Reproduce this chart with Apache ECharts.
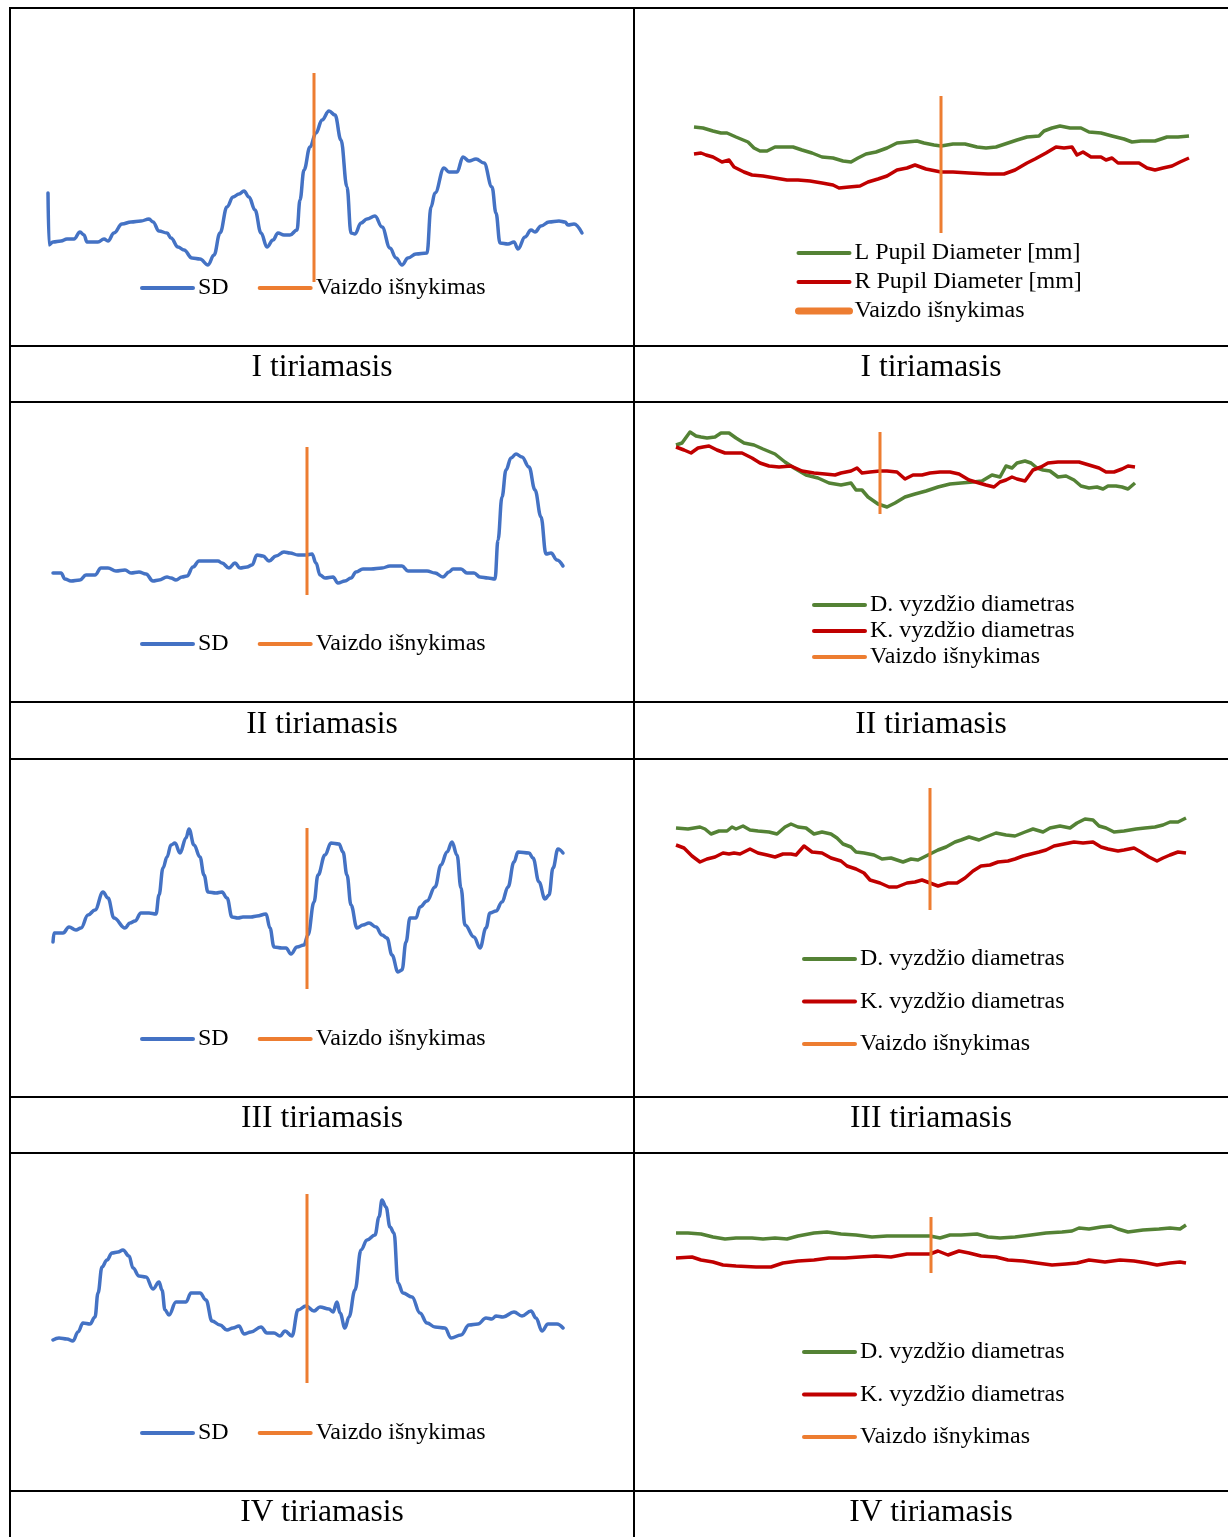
<!DOCTYPE html>
<html><head><meta charset="utf-8">
<script src="https://cdn.jsdelivr.net/npm/echarts@6/dist/echarts.min.js"></script>
<style>html,body{margin:0;padding:0;background:#fff}#c{width:1228px;height:1537px}</style>
</head><body><div id="c"></div>
<script>
// ---------- DATA (time in s, SD in arbitrary units, pupil diameter in mm) ----------
// I tiriamasis
const sd1T = [0.1,0.2,0.6,1.4,2.0,2.7,3.3,3.7,4.0,5.1,5.7,6.1,6.7,7.5,8.4,9.4,10.2,10.6,11.2,12.0,12.4,13.1,13.7,14.5,15.3,16.1,16.7,17.3,18.0,18.6,19.2,19.7,20.2,20.8,21.4,22.0,22.6,23.1,23.7,24.3,25.0,25.3,25.7,26.3,26.9,27.5,28.2,28.8,29.4,30.0,30.4,30.8,31.4,32.0,32.8,33.5,34.3,34.9,35.5,36.1,36.9,38.0,38.4,38.8,39.7,40.2,41.0,41.6,42.2,42.9,43.7,44.5,44.9,45.3,46.1,46.7,47.1,47.8,48.4,48.8,49.4,50.2,51.2,51.8,52.1,52.7,53.5];
const sd1V = [1.07,0.55,0.58,0.59,0.61,0.61,0.68,0.65,0.58,0.58,0.61,0.59,0.67,0.76,0.78,0.79,0.81,0.78,0.69,0.67,0.62,0.53,0.50,0.42,0.41,0.35,0.45,0.67,0.93,1.03,1.06,1.09,1.03,0.90,0.67,0.53,0.60,0.67,0.65,0.65,0.70,1.00,1.30,1.53,1.67,1.80,1.89,1.85,1.60,1.13,0.67,0.66,0.77,0.81,0.84,0.73,0.52,0.42,0.35,0.42,0.46,0.47,0.93,1.07,1.32,1.28,1.28,1.43,1.39,1.41,1.37,1.13,0.87,0.57,0.56,0.58,0.51,0.63,0.70,0.68,0.74,0.78,0.79,0.78,0.75,0.76,0.67];
const p1LT = [0.0,0.9,1.9,2.7,3.3,4.2,5.4,6.0,6.6,7.3,8.1,8.9,9.9,10.8,11.8,12.8,13.9,14.9,15.7,16.4,17.2,18.2,19.3,20.3,21.3,22.3,23.0,24.0,24.7,25.9,27.1,28.3,29.2,30.2,31.4,32.3,33.3,34.5,35.0,35.8,36.6,37.6,38.7,39.5,40.7,41.8,43.0,43.8,44.7,46.1,47.3,48.4,49.5];
const p1LV = [4.13,4.12,4.09,4.07,4.07,4.03,3.98,3.92,3.89,3.89,3.93,3.93,3.93,3.90,3.87,3.83,3.82,3.79,3.78,3.82,3.86,3.88,3.92,3.97,3.98,3.99,3.97,3.95,3.94,3.96,3.96,3.93,3.92,3.93,3.97,4.00,4.03,4.04,4.09,4.12,4.14,4.12,4.12,4.08,4.07,4.04,4.01,3.98,3.99,3.99,4.03,4.03,4.04];
const p1RT = [0.0,0.7,1.2,1.9,2.8,3.5,4.0,5.0,5.8,6.9,8.1,9.3,10.4,11.6,12.8,13.9,14.5,15.5,16.6,17.4,18.4,19.3,20.3,21.3,22.1,23.2,24.7,25.9,27.5,29.4,31.0,32.1,33.3,34.1,35.2,36.2,37.0,37.8,38.3,38.9,39.7,40.7,41.2,41.8,42.4,43.4,44.5,45.3,46.1,46.9,47.8,48.6,49.5];
const p1RV = [3.86,3.87,3.85,3.83,3.78,3.80,3.73,3.68,3.65,3.64,3.62,3.60,3.60,3.59,3.57,3.55,3.52,3.53,3.54,3.58,3.61,3.64,3.70,3.72,3.75,3.71,3.68,3.68,3.67,3.66,3.66,3.70,3.77,3.81,3.87,3.93,3.92,3.93,3.85,3.88,3.83,3.83,3.80,3.82,3.77,3.77,3.77,3.72,3.70,3.72,3.74,3.78,3.82];
// II tiriamasis
const sd2T = [0.0,0.4,0.8,1.2,1.8,2.7,3.3,4.2,4.8,5.5,6.3,7.2,7.8,8.6,9.3,10.0,10.6,11.4,11.8,12.3,12.9,13.4,14.0,14.6,15.5,16.5,16.9,17.6,18.2,18.7,19.4,19.9,20.4,21.0,21.6,22.3,23.1,23.7,24.5,25.3,25.9,26.3,26.7,27.2,28.0,28.5,29.2,29.8,30.3,31.0,31.8,32.9,33.7,34.9,35.5,36.3,37.4,38.2,39.0,39.6,40.0,40.8,41.4,42.1,42.7,43.5,44.2,44.5,44.9,45.3,45.8,46.3,46.9,47.6,48.2,48.8,49.3,49.8,50.4,51.0];
const sd2V = [0.27,0.27,0.27,0.21,0.19,0.20,0.25,0.25,0.32,0.32,0.29,0.30,0.27,0.28,0.26,0.19,0.20,0.23,0.22,0.20,0.23,0.24,0.33,0.39,0.39,0.39,0.37,0.32,0.37,0.32,0.33,0.35,0.45,0.44,0.39,0.44,0.48,0.47,0.45,0.45,0.46,0.37,0.25,0.22,0.23,0.17,0.19,0.22,0.28,0.31,0.31,0.32,0.34,0.34,0.29,0.29,0.29,0.27,0.23,0.28,0.31,0.31,0.27,0.27,0.23,0.22,0.21,0.60,1.03,1.30,1.42,1.46,1.43,1.33,1.10,0.83,0.46,0.47,0.40,0.34];
const p2DT = [0.0,0.6,1.4,2.0,2.5,3.1,3.9,4.5,5.3,6.0,6.8,7.8,8.7,9.9,10.9,11.8,13.0,14.2,15.3,16.5,17.5,18.0,18.6,19.2,20.2,21.1,21.9,22.9,23.9,25.0,26.2,27.4,28.5,29.7,30.6,31.6,32.4,33.0,33.6,34.1,34.9,35.5,36.1,36.7,37.4,38.2,39.0,39.8,40.5,41.3,42.1,42.7,43.2,44.0,44.6,45.2,45.9];
const p2DV = [3.85,3.87,3.98,3.94,3.93,3.92,3.93,3.97,3.97,3.92,3.87,3.85,3.81,3.76,3.68,3.62,3.55,3.52,3.47,3.45,3.47,3.40,3.40,3.33,3.26,3.23,3.27,3.33,3.36,3.39,3.43,3.46,3.47,3.48,3.49,3.55,3.53,3.64,3.62,3.67,3.69,3.67,3.62,3.60,3.59,3.53,3.54,3.50,3.44,3.42,3.43,3.41,3.44,3.44,3.43,3.41,3.47];
const p2KT = [0.0,0.8,1.5,2.2,2.7,3.3,4.1,4.9,5.6,6.6,7.6,8.4,9.3,10.3,11.5,12.6,13.8,14.9,15.9,16.5,17.5,18.1,18.6,19.4,20.4,21.1,22.1,22.9,23.7,24.6,25.4,26.4,27.4,28.3,29.3,30.3,31.0,31.8,32.4,33.0,33.6,34.1,34.9,35.7,36.5,37.2,38.2,39.4,40.3,41.3,42.3,43.0,43.8,44.6,45.2,45.9];
const p2KV = [3.83,3.80,3.77,3.82,3.83,3.84,3.80,3.77,3.77,3.77,3.72,3.67,3.64,3.63,3.64,3.59,3.57,3.56,3.55,3.57,3.59,3.62,3.57,3.58,3.59,3.59,3.58,3.51,3.55,3.55,3.57,3.58,3.58,3.56,3.50,3.47,3.45,3.43,3.48,3.50,3.53,3.51,3.49,3.60,3.63,3.67,3.68,3.68,3.68,3.65,3.62,3.58,3.58,3.61,3.64,3.63];
// III tiriamasis
const sd3T = [0.0,0.1,1.0,1.6,2.3,2.8,3.5,4.2,5.0,5.5,6.1,7.2,7.7,8.2,8.8,9.6,10.3,10.6,11.0,11.4,11.8,12.2,12.7,13.3,13.6,14.1,14.7,15.1,15.5,16.3,16.9,17.4,17.9,18.5,19.0,19.8,20.4,21.3,21.7,22.1,22.9,23.3,23.8,24.4,25.1,25.5,26.1,26.5,27.2,27.8,28.6,29.0,29.4,29.8,30.4,31.0,31.6,32.3,32.9,33.4,33.9,34.5,34.9,35.3,35.7,36.3,36.7,37.4,38.2,38.8,39.4,39.9,40.4,40.8,41.2,42.1,42.7,43.3,43.7,44.3,44.9,45.5,46.1,46.5,47.6,48.0,48.6,49.2,49.6,50.0,50.5,51.0];
const sd3V = [0.58,0.67,0.67,0.73,0.70,0.72,0.85,0.90,1.08,1.02,0.82,0.72,0.77,0.79,0.87,0.87,0.86,1.05,1.32,1.43,1.55,1.57,1.47,1.62,1.71,1.55,1.43,1.25,1.08,1.07,1.08,1.02,0.83,0.82,0.83,0.83,0.84,0.86,0.72,0.53,0.52,0.52,0.46,0.53,0.55,0.65,0.98,1.25,1.45,1.57,1.56,1.48,1.25,0.95,0.72,0.75,0.77,0.73,0.65,0.62,0.45,0.28,0.30,0.58,0.82,0.82,0.93,0.99,1.13,1.35,1.48,1.58,1.45,1.12,0.75,0.63,0.52,0.72,0.87,0.89,0.98,1.13,1.38,1.48,1.47,1.42,1.18,1.01,1.05,1.32,1.51,1.47];
const p3DT = [0.0,1.2,2.4,2.9,3.5,4.3,5.1,5.6,6.0,6.7,7.4,8.2,9.3,10.1,10.9,11.5,12.2,13.0,13.8,14.6,15.5,16.1,16.7,17.5,18.0,18.8,19.8,20.6,21.5,22.7,23.5,24.2,25.4,26.2,27.0,27.9,28.5,29.3,30.3,31.0,32.0,33.0,33.9,34.9,35.7,36.7,37.4,38.4,39.4,40.1,40.9,41.7,42.3,43.0,43.8,44.8,46.0,46.9,47.9,48.7,49.4,50.2,51.0];
const p3DV = [4.02,4.01,4.03,4.01,3.96,3.99,3.99,4.03,4.01,4.04,4.00,3.99,3.98,3.96,4.03,4.06,4.03,4.02,3.96,3.98,3.96,3.92,3.86,3.83,3.78,3.77,3.75,3.71,3.72,3.68,3.71,3.70,3.76,3.80,3.83,3.88,3.90,3.93,3.90,3.93,3.97,3.95,3.94,3.98,4.01,3.98,4.02,4.04,4.02,4.07,4.11,4.10,4.04,4.02,3.98,3.99,4.01,4.02,4.03,4.05,4.08,4.08,4.12];
const p3KT = [0.0,0.8,1.6,2.4,3.1,3.9,4.7,5.3,5.8,6.4,7.4,8.2,9.1,9.9,10.7,11.5,12.0,12.8,13.6,14.6,15.5,16.5,17.1,18.0,18.8,19.4,20.4,21.3,22.1,23.1,23.9,24.6,25.4,26.2,27.2,28.1,28.9,29.7,30.5,31.4,32.2,33.2,33.9,34.7,35.5,36.3,37.0,37.8,38.8,39.8,40.7,41.7,42.5,43.2,44.2,44.8,45.8,46.5,47.3,48.1,48.7,49.4,50.2,51.0];
const p3KV = [3.85,3.82,3.74,3.68,3.71,3.73,3.77,3.76,3.77,3.76,3.81,3.77,3.75,3.73,3.76,3.76,3.75,3.84,3.78,3.77,3.72,3.69,3.64,3.61,3.57,3.50,3.47,3.43,3.43,3.47,3.48,3.50,3.47,3.44,3.47,3.47,3.52,3.59,3.64,3.65,3.68,3.69,3.71,3.74,3.76,3.78,3.80,3.84,3.86,3.88,3.87,3.88,3.83,3.81,3.79,3.80,3.82,3.78,3.73,3.69,3.72,3.75,3.78,3.77];
// IV tiriamasis
const sd4T = [0.0,0.6,1.4,2.0,2.5,3.0,3.7,4.2,4.5,4.9,5.4,5.9,6.5,7.0,7.6,8.0,8.6,9.3,10.0,10.6,10.9,11.2,11.6,12.3,13.3,13.8,14.7,15.3,15.9,16.7,17.4,18.0,18.6,19.1,19.8,20.8,21.4,22.1,22.7,23.2,23.9,24.5,25.3,26.1,26.7,27.6,28.0,28.4,28.7,29.2,29.6,30.2,30.8,31.4,32.2,32.6,32.9,33.3,33.7,34.1,34.5,35.0,35.9,36.7,37.4,38.2,39.2,39.8,40.8,41.6,42.5,43.3,43.9,44.3,45.0,46.1,46.9,47.8,48.3,48.9,49.5,50.4,51.0];
const sd4V = [0.60,0.62,0.61,0.59,0.68,0.77,0.76,0.83,1.07,1.33,1.40,1.47,1.48,1.50,1.44,1.32,1.24,1.23,1.11,1.18,1.10,0.90,0.85,0.98,0.98,1.07,1.07,1.00,0.79,0.75,0.70,0.72,0.74,0.66,0.68,0.73,0.67,0.67,0.64,0.69,0.64,0.90,0.94,0.89,0.93,0.91,0.88,0.98,0.87,0.72,0.83,1.10,1.50,1.60,1.65,1.83,2.00,1.93,1.73,1.67,1.17,1.07,1.03,0.87,0.77,0.73,0.72,0.62,0.65,0.75,0.76,0.82,0.81,0.84,0.83,0.88,0.84,0.89,0.82,0.69,0.76,0.76,0.72];
const p4DT = [0.0,1.2,2.5,3.7,4.9,6.0,7.6,8.7,9.9,11.1,12.2,13.8,15.1,16.5,18.0,19.6,21.1,22.7,24.2,25.4,26.4,27.4,28.5,30.1,31.2,32.4,33.9,35.5,37.0,38.6,39.6,40.3,41.3,42.5,43.5,44.2,45.2,46.7,48.3,49.4,50.4,51.0];
const p4DV = [3.67,3.67,3.66,3.63,3.61,3.62,3.62,3.61,3.62,3.61,3.64,3.67,3.68,3.66,3.65,3.63,3.64,3.64,3.64,3.64,3.62,3.65,3.65,3.66,3.63,3.62,3.63,3.65,3.67,3.68,3.69,3.72,3.71,3.73,3.74,3.71,3.68,3.70,3.71,3.72,3.71,3.75];
const p4KT = [0.0,1.6,2.5,3.7,4.7,6.0,8.0,9.5,10.7,12.2,13.8,15.3,16.9,18.4,20.0,21.5,23.1,24.4,25.4,26.2,27.2,28.3,29.3,30.5,32.0,33.2,34.7,36.1,37.6,39.0,40.1,41.3,42.9,44.4,45.8,47.1,48.1,49.4,50.4,51.0];
const p4KV = [3.42,3.43,3.40,3.38,3.35,3.34,3.33,3.33,3.37,3.39,3.40,3.42,3.42,3.43,3.44,3.43,3.46,3.46,3.46,3.49,3.45,3.49,3.47,3.44,3.43,3.40,3.39,3.37,3.35,3.36,3.37,3.40,3.38,3.40,3.39,3.37,3.35,3.37,3.38,3.37];
// Image-disappearance moment (time) and the span of the marker line, per panel L1,R1,L2,R2,L3,R3,L4,R4
const eventT = [26.7, 24.7, 25.4, 20.4, 25.4, 25.4, 25.4, 25.5];
const eventLo = [0.18, 3.07, 0.05, 3.16, 0.11, 3.20, 0.17, 3.27];
const eventHi = [2.27, 4.44, 1.53, 3.98, 1.72, 4.42, 2.06, 3.83];
// Text
const captions = ['I tiriamasis', 'II tiriamasis', 'III tiriamasis', 'IV tiriamasis'];
const nameSD = 'SD';
const nameEvent = 'Vaizdo išnykimas';
const namesPupilEN = ['L Pupil Diameter [mm]', 'R Pupil Diameter [mm]'];
const namesPupilLT = ['D. vyzdžio diametras', 'K. vyzdžio diametras'];

// ---------- LAYOUT ----------
const C = { blue: '#4472C4', orange: '#ED7D31', green: '#548235', red: '#C00000' };
const FONT = 'Liberation Serif';
const panels = [
  { grid: { left: 47, top: 60, width: 536, height: 240 }, x: [0, 53.6], y: [0, 2.4], sd: [sd1T, sd1V] },
  { grid: { left: 694, top: 80, width: 495, height: 160 }, x: [0, 49.5], y: [3.0, 4.6], d: [p1LT, p1LV], k: [p1RT, p1RV], names: namesPupilEN },
  { grid: { left: 53, top: 440, width: 511, height: 160 }, x: [0, 51.1], y: [0, 1.6], sd: [sd2T, sd2V] },
  { grid: { left: 676, top: 420, width: 459, height: 110 }, x: [0, 45.9], y: [3.0, 4.1], d: [p2DT, p2DV], k: [p2KT, p2KV], names: namesPupilLT },
  { grid: { left: 53, top: 810, width: 511, height: 190 }, x: [0, 51.1], y: [0, 1.9], sd: [sd3T, sd3V] },
  { grid: { left: 676, top: 770, width: 510, height: 160 }, x: [0, 51.0], y: [3.0, 4.6], d: [p3DT, p3DV], k: [p3KT, p3KV], names: namesPupilLT },
  { grid: { left: 53, top: 1180, width: 511, height: 220 }, x: [0, 51.1], y: [0, 2.2], sd: [sd4T, sd4V] },
  { grid: { left: 676, top: 1190, width: 510, height: 110 }, x: [0, 51.0], y: [3.0, 4.1], d: [p4DT, p4DV], k: [p4KT, p4KV], names: namesPupilLT }
];
const zip = (t, v) => t.slice(0, Math.min(t.length, v.length)).map((x, i) => [x, v[i]]);

const grids = [], xAxes = [], yAxes = [], series = [];
panels.forEach((p, i) => {
  grids.push(Object.assign({ outerBoundsMode: 'none', containLabel: false, show: false }, p.grid));
  xAxes.push({ type: 'value', gridIndex: i, min: p.x[0], max: p.x[1], show: false, axisLabel: { show: false }, splitLine: { show: false } });
  yAxes.push({ type: 'value', gridIndex: i, min: p.y[0], max: p.y[1], show: false, axisLabel: { show: false }, splitLine: { show: false } });
  if (p.sd) {
    series.push({ type: 'line', name: nameSD, xAxisIndex: i, yAxisIndex: i, data: zip(p.sd[0], p.sd[1]),
      symbol: 'none', smooth: 0.4, smoothMonotone: 'x', lineStyle: { color: C.blue, width: 3.5, cap: 'round', join: 'round' }, itemStyle: { color: C.blue } });
  } else {
    series.push({ type: 'line', name: p.names[0], xAxisIndex: i, yAxisIndex: i, data: zip(p.d[0], p.d[1]),
      symbol: 'none', lineStyle: { color: C.green, width: 3.5, join: 'round' }, itemStyle: { color: C.green } });
    series.push({ type: 'line', name: p.names[1], xAxisIndex: i, yAxisIndex: i, data: zip(p.k[0], p.k[1]),
      symbol: 'none', lineStyle: { color: C.red, width: 3.5, join: 'round' }, itemStyle: { color: C.red } });
  }
  series.push({ type: 'line', name: nameEvent, xAxisIndex: i, yAxisIndex: i,
    data: [[eventT[i], eventLo[i]], [eventT[i], eventHi[i]]],
    symbol: 'none', lineStyle: { color: C.orange, width: 3 }, itemStyle: { color: C.orange } });
});

const legendBase = {
  padding: 0, itemWidth: 51, itemHeight: 14, selectedMode: false,
  itemStyle: { opacity: 0 }, lineStyle: { width: 4, cap: 'round' },
  textStyle: { fontFamily: FONT, fontSize: 24, lineHeight: 24, color: '#000' }
};
const legends = [
  { left: 140, top: 276, orient: 'horizontal', itemGap: 29, data: [nameSD, nameEvent] },
  { left: 795, top: 241, orient: 'vertical', itemGap: 5, data: [namesPupilEN[0], namesPupilEN[1], { name: nameEvent, lineStyle: { width: 7, cap: 'round' } }] },
  { left: 140, top: 632, orient: 'horizontal', itemGap: 29, data: [nameSD, nameEvent] },
  { left: 812, top: 593, orient: 'vertical', itemGap: 2, data: [namesPupilLT[0], namesPupilLT[1], nameEvent] },
  { left: 140, top: 1027, orient: 'horizontal', itemGap: 29, data: [nameSD, nameEvent] },
  { left: 802, top: 947, orient: 'vertical', itemGap: 18.5, data: [namesPupilLT[0], namesPupilLT[1], nameEvent] },
  { left: 140, top: 1421, orient: 'horizontal', itemGap: 29, data: [nameSD, nameEvent] },
  { left: 802, top: 1340, orient: 'vertical', itemGap: 18.5, data: [namesPupilLT[0], namesPupilLT[1], nameEvent] }
].map(l => Object.assign({}, legendBase, l));

// table rules and captions
const rowLinesY = [7, 345, 401, 701, 758, 1096, 1152, 1490];
const colLinesX = [9, 633];
const captionY = [367.5, 724.5, 1118.5, 1512.5];
const colCenters = [322, 931];
const graphics = [];
rowLinesY.forEach(y => graphics.push({ type: 'rect', silent: true, shape: { x: 9, y: y, width: 1219, height: 2 }, style: { fill: '#000' } }));
colLinesX.forEach(x => graphics.push({ type: 'rect', silent: true, shape: { x: x, y: 7, width: 2, height: 1530 }, style: { fill: '#000' } }));
captions.forEach((t, r) => colCenters.forEach(cx => graphics.push({
  type: 'text', silent: true, x: cx, y: captionY[r],
  style: { text: t, font: '31.5px "' + FONT + '"', fill: '#000', align: 'center', verticalAlign: 'middle' }
})));

const chart = echarts.init(document.getElementById('c'), null, { renderer: 'canvas' });
chart.setOption({
  animation: false,
  backgroundColor: '#fff',
  grid: grids, xAxis: xAxes, yAxis: yAxes, series: series,
  legend: legends,
  graphic: graphics
});
</script></body></html>
